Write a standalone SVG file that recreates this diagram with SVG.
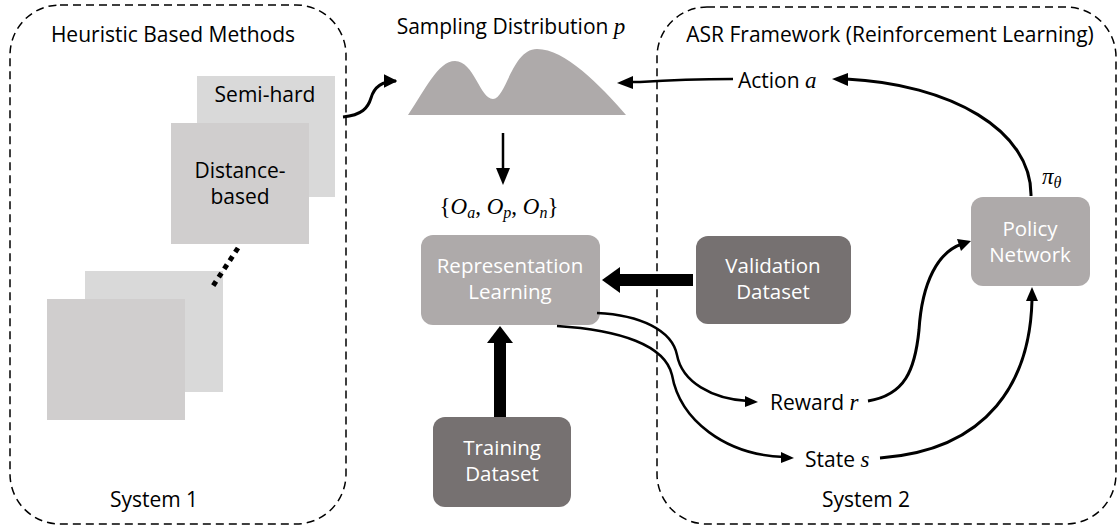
<svg xmlns="http://www.w3.org/2000/svg" width="1117" height="529" viewBox="0 0 1117 529">
<defs>
<style>
.lbl{font-family:"Open Sans","Liberation Sans",sans-serif;font-size:21px;fill:#000;}
.wht{font-family:"Open Sans","Liberation Sans",sans-serif;font-size:20.5px;fill:#fff;}
.math{font-family:"Liberation Serif","DejaVu Serif",serif;font-style:italic;font-size:23px;fill:#000;}
.dash{fill:none;stroke:#000;stroke-width:1.5;stroke-dasharray:8 5;}
.conn{fill:none;stroke:#000;stroke-width:3;}
</style>
<marker id="ah" viewBox="0 0 10 10" refX="9" refY="5" markerWidth="4.5" markerHeight="4.5" orient="auto" markerUnits="strokeWidth">
<path d="M0,0 L10,5 L0,10 Z" fill="#000"/>
</marker>
</defs>
<rect width="1117" height="529" fill="#fff"/>

<g id="system1">
<rect class="dash" x="10" y="5" width="336" height="519" rx="50"/>
<text class="lbl" x="173" y="42" text-anchor="middle" font-size="22">Heuristic Based Methods</text>
<text class="lbl" x="154" y="507" text-anchor="middle">System 1</text>
</g>

<g id="system2">
<rect class="dash" x="657" y="7" width="459" height="517" rx="50"/>
<text class="lbl" x="890" y="42" text-anchor="middle" font-size="22">ASR Framework (Reinforcement Learning)</text>
<text class="lbl" x="866" y="507" text-anchor="middle">System 2</text>
</g>

<g id="stack-back">
<rect x="85" y="271" width="138" height="121" fill="#d9d9d9"/>
<rect x="47" y="299" width="138" height="121" fill="#d0cece"/>
</g>

<g id="semi-hard">
<rect x="197" y="76" width="138" height="121" fill="#d9d9d9"/>
<text class="lbl" x="265" y="102" text-anchor="middle">Semi-hard</text>
</g>

<g id="distance-based">
<rect x="171" y="123" width="138" height="121" fill="#d0cece"/>
<text class="lbl" x="240" y="178" text-anchor="middle">Distance-</text>
<text class="lbl" x="240" y="204" text-anchor="middle">based</text>
</g>

<g id="sampling">
<text class="lbl" x="511" y="34" text-anchor="middle">Sampling Distribution <tspan class="math" font-size="22">p</tspan></text>
<path d="M408,115 C425,90 438,61 455,61 C474,61 480,99 493,99 C506,99 512,49 537,49 C565,49 600,85 626,115 Z" fill="#aeaaaa"/>
</g>

<g id="triplet">
<text class="math" x="499" y="214" text-anchor="middle"><tspan font-style="normal">{</tspan>O<tspan font-size="16" dy="4">a</tspan><tspan dy="-4" font-style="normal">, </tspan>O<tspan font-size="16" dy="4">p</tspan><tspan dy="-4" font-style="normal">, </tspan>O<tspan font-size="16" dy="4">n</tspan><tspan dy="-4" font-style="normal">}</tspan></text>
</g>

<g id="representation">
<rect x="421" y="235" width="179" height="90" rx="12" fill="#aeaaaa"/>
<text class="wht" x="510" y="273" text-anchor="middle">Representation</text>
<text class="wht" x="510" y="299" text-anchor="middle">Learning</text>
</g>

<g id="validation">
<rect x="696" y="236" width="155" height="88" rx="12" fill="#767171"/>
<text class="wht" x="773" y="273" text-anchor="middle">Validation</text>
<text class="wht" x="773" y="299" text-anchor="middle">Dataset</text>
</g>

<g id="training">
<rect x="433" y="417" width="138" height="90" rx="12" fill="#767171"/>
<text class="wht" x="502" y="455" text-anchor="middle">Training</text>
<text class="wht" x="502" y="481" text-anchor="middle">Dataset</text>
</g>

<g id="policy">
<rect x="971" y="197" width="119" height="89" rx="12" fill="#aeaaaa"/>
<text class="wht" x="1030" y="236" text-anchor="middle">Policy</text>
<text class="wht" x="1030" y="262" text-anchor="middle">Network</text>
</g>

<g id="labels">
<text class="lbl" x="738" y="88">Action <tspan class="math" font-size="22">a</tspan></text>
<text class="lbl" x="770" y="410">Reward <tspan class="math" font-size="22">r</tspan></text>
<text class="lbl" x="805" y="467">State <tspan class="math" font-size="22">s</tspan></text>
<text class="math" x="1042" y="184">π<tspan font-size="16" dy="4">θ</tspan></text>
</g>

<g id="connectors">
<path d="M238,248 L211,289" fill="none" stroke="#000" stroke-width="5" stroke-dasharray="5 5"/>
<path class="conn" d="M343,117 C362,115 368,108 371,98 C375,84 386,81 396,81" marker-end="url(#ah)"/>
<path d="M503,133 L503,170" fill="none" stroke="#000" stroke-width="2.5"/>
<path d="M496,168 L510,168 L503,185 Z" fill="#000"/>
<path d="M733,79 C700,79 670,80 640,82 L630,82" fill="none" stroke="#000" stroke-width="2.5"/>
<path d="M633,76 L617,83 L633,89 Z" fill="#000"/>
<path d="M1031,196 C1032,130 950,84 846,79" fill="none" stroke="#000" stroke-width="3"/>
<path d="M848,73 L832,79 L848,86 Z" fill="#000"/>
<path d="M693,280 L617,280" fill="none" stroke="#000" stroke-width="12"/>
<path d="M620,267 L602,280 L620,293 Z" fill="#000"/>
<path d="M500,417 L500,341" fill="none" stroke="#000" stroke-width="12"/>
<path d="M487,343 L500,326 L513,343 Z" fill="#000"/>
<path d="M597,313 C640,315 672,330 677,355 C682,382 712,399 748,401" fill="none" stroke="#000" stroke-width="2.5"/>
<path d="M745,396 L758,402 L745,407 Z" fill="#000"/>
<path d="M557,326 C620,330 665,345 672,375 C680,420 725,455 784,457" fill="none" stroke="#000" stroke-width="2.5"/>
<path d="M781,452 L794,458 L781,463 Z" fill="#000"/>
<path d="M868,401 C905,395 915,370 919,330 C922,282 938,252 962,244" fill="none" stroke="#000" stroke-width="3"/>
<path d="M957,239 L971,241 L961,251 Z" fill="#000"/>
<path d="M880,458 C990,450 1030,380 1032,300" fill="none" stroke="#000" stroke-width="3"/>
<path d="M1026,301 L1032,287 L1038,301 Z" fill="#000"/>
</g>
</svg>
